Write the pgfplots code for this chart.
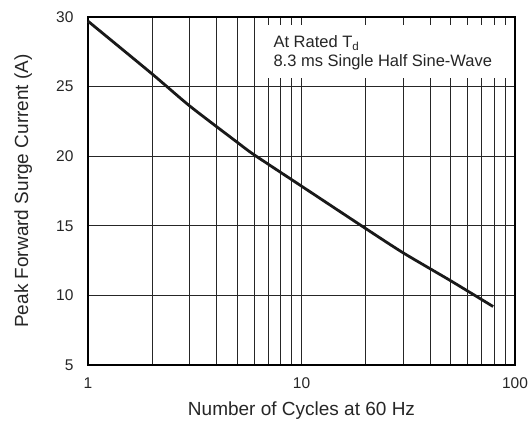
\documentclass[border=0pt]{standalone}
\usepackage{pgfplots}
\pgfplotsset{compat=1.18}
\usepackage{fontspec}
\setmainfont{Liberation Sans}
\begin{document}
\begin{tikzpicture}[x=1pt,y=1pt]
\useasboundingbox (0,0) rectangle (529,421);
\begin{axis}[
  at={(88pt,56pt)}, anchor=south west,
  scale only axis, width=427pt, height=348pt,
  xmode=log, xmin=1, xmax=100, ymin=5, ymax=30,
  xtick={1,10,100}, xticklabels={1,10,100},
  ytick={5,10,15,20,25,30},
  minor xtick={2,3,4,5,6,7,8,9,20,30,40,50,60,70,80,90},
  /pgf/number format/assume math mode=true,
  grid=both,
  major grid style={line width=0.9pt, black!85},
  minor grid style={line width=0.9pt, black!85},
  axis line style={line width=1.6pt},
  tick style={draw=none},
  ticklabel style={font=\fontsize{15.5}{18}\selectfont, text=black!85},
  xticklabel style={yshift=-9pt},
  yticklabel style={xshift=-11pt},
  label style={font=\fontsize{19}{22}\selectfont, text=black!85},
  xlabel={Number of Cycles at 60 Hz},
  ylabel={Peak Forward Surge Current (A)},
  xlabel style={at={(axis description cs:0.5,-0.132)}, anchor=center},
  ylabel style={at={(axis description cs:-0.152,0.5)}, anchor=center},
  clip=false,
]
\fill[white] (rel axis cs:0.405,0.978) rectangle (rel axis cs:0.996,0.826);
\node[anchor=base west, font=\fontsize{16.5}{18}\selectfont, text=black!85, inner sep=0pt] at (rel axis cs:0.434,0.912) {At Rated T\textsubscript{d}};
\node[anchor=base west, font=\fontsize{16.5}{18}\selectfont, text=black!85, inner sep=0pt] at (rel axis cs:0.434,0.857) {8.3 ms Single Half Sine-Wave};
\addplot[line width=2.8pt, black!90, smooth, tension=0.4] coordinates {
(1,29.7) (2,25.9) (3,23.6) (5,21.0) (6,20.1) (10,17.85) (20,14.8) (30,13.05) (50,11.05) (79,9.2)
};
\end{axis}
\end{tikzpicture}
\end{document}
